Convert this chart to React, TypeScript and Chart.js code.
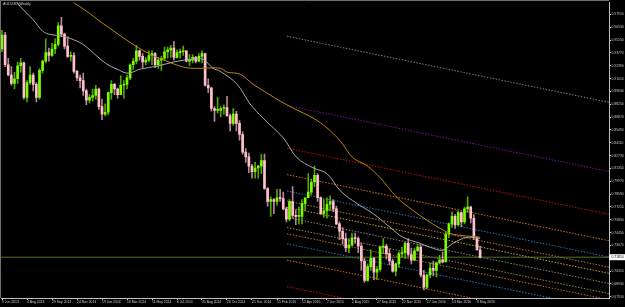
import React, { useEffect, useRef } from "react";
import { Chart, registerables } from "chart.js";
Chart.register(...registerables);

const title = "AUDUSD,Weekly";
const dateLabels = ["9 Jun 2013","4 Aug 2013","29 Sep 2013","24 Nov 2013","19 Jan 2014","16 Mar 2014","11 May 2014","6 Jul 2014","31 Aug 2014","26 Oct 2014","21 Dec 2014","15 Feb 2015","12 Apr 2015","7 Jun 2015","2 Aug 2015","27 Sep 2015","22 Nov 2015","17 Jan 2016","13 Mar 2016","8 May 2016"];
const dateLabelBars = [0,8,16,24,32,40,48,56,64,72,80,88,96,104,112,120,128,136,144,152];

const opens = [0.9420,0.9570,0.9250,0.9140,0.9050,0.9100,0.9240,0.9270,0.8900,0.9060,0.9140,0.9040,0.8900,0.9190,0.9290,0.9380,0.9350,0.9420,0.9470,0.9670,0.9580,0.9450,0.9340,0.9350,0.9180,0.9110,0.9080,0.8970,0.8870,0.8900,0.8920,0.8990,0.8800,0.8720,0.8740,0.8950,0.9040,0.8990,0.8930,0.9030,0.9040,0.9110,0.9250,0.9290,0.9400,0.9340,0.9280,0.9300,0.9350,0.9370,0.9250,0.9300,0.9320,0.9390,0.9410,0.9430,0.9330,0.9380,0.9390,0.9400,0.9290,0.9300,0.9330,0.9290,0.9340,0.9370,0.9030,0.9000,0.8780,0.8760,0.8760,0.8780,0.8790,0.8700,0.8620,0.8720,0.8620,0.8500,0.8310,0.8260,0.8160,0.8100,0.8140,0.8160,0.8220,0.7920,0.7780,0.7800,0.7780,0.7820,0.7810,0.7700,0.7590,0.7780,0.7630,0.7620,0.7620,0.7760,0.7820,0.7880,0.7990,0.8060,0.7820,0.7650,0.7680,0.7750,0.7780,0.7700,0.7540,0.7460,0.7380,0.7280,0.7310,0.7390,0.7380,0.7300,0.7140,0.6930,0.7080,0.7170,0.7020,0.7050,0.7290,0.7300,0.7220,0.7140,0.7030,0.7110,0.7220,0.7230,0.7330,0.7210,0.7150,0.7250,0.7290,0.6990,0.6860,0.6990,0.7060,0.7040,0.7120,0.7150,0.7130,0.7430,0.7540,0.7620,0.7530,0.7660,0.7560,0.7700,0.7720,0.7600,0.7390,0.7260];
const highs = [0.9620,0.9600,0.9320,0.9230,0.9170,0.9280,0.9320,0.9280,0.9080,0.9230,0.9160,0.9060,0.9210,0.9300,0.9530,0.9430,0.9480,0.9530,0.9700,0.9760,0.9590,0.9550,0.9390,0.9380,0.9190,0.9140,0.9160,0.8990,0.8930,0.8990,0.9030,0.9000,0.8880,0.8830,0.8960,0.9080,0.9050,0.9000,0.9130,0.9080,0.9140,0.9260,0.9320,0.9460,0.9410,0.9370,0.9330,0.9400,0.9400,0.9380,0.9330,0.9340,0.9440,0.9440,0.9460,0.9500,0.9410,0.9420,0.9450,0.9400,0.9360,0.9360,0.9340,0.9370,0.9400,0.9370,0.9100,0.9010,0.8800,0.8900,0.8800,0.8820,0.8910,0.8720,0.8780,0.8750,0.8650,0.8530,0.8350,0.8300,0.8180,0.8200,0.8170,0.8290,0.8290,0.7930,0.7830,0.7810,0.7910,0.7910,0.7880,0.7720,0.7800,0.7940,0.7690,0.7720,0.7800,0.7820,0.8080,0.8020,0.8160,0.8080,0.7830,0.7800,0.7820,0.7840,0.7800,0.7730,0.7560,0.7500,0.7440,0.7380,0.7440,0.7440,0.7400,0.7330,0.7170,0.7110,0.7260,0.7180,0.7080,0.7300,0.7380,0.7320,0.7270,0.7160,0.7120,0.7240,0.7290,0.7340,0.7380,0.7280,0.7280,0.7320,0.7310,0.7040,0.7000,0.7120,0.7140,0.7130,0.7200,0.7240,0.7450,0.7550,0.7670,0.7640,0.7680,0.7670,0.7720,0.7830,0.7730,0.7640,0.7400,0.7300];
const lows = [0.9390,0.9230,0.9130,0.9030,0.8990,0.9050,0.9170,0.8880,0.8850,0.9040,0.8970,0.8850,0.8880,0.9160,0.9270,0.9290,0.9340,0.9370,0.9450,0.9550,0.9420,0.9330,0.9290,0.9160,0.9080,0.9000,0.8920,0.8820,0.8840,0.8860,0.8880,0.8770,0.8660,0.8700,0.8710,0.8880,0.8930,0.8890,0.8930,0.8890,0.8990,0.9090,0.9200,0.9260,0.9300,0.9220,0.9250,0.9280,0.9250,0.9220,0.9210,0.9190,0.9300,0.9320,0.9330,0.9300,0.9320,0.9320,0.9350,0.9280,0.9240,0.9270,0.9270,0.9280,0.9270,0.9020,0.8950,0.8750,0.8640,0.8730,0.8690,0.8720,0.8700,0.8540,0.8600,0.8540,0.8440,0.8290,0.8200,0.8090,0.8030,0.8030,0.8030,0.8080,0.7910,0.7730,0.7620,0.7650,0.7740,0.7780,0.7690,0.7560,0.7570,0.7600,0.7530,0.7540,0.7540,0.7680,0.7820,0.7850,0.7940,0.7780,0.7640,0.7610,0.7600,0.7680,0.7670,0.7530,0.7370,0.7320,0.7240,0.7230,0.7300,0.7330,0.7230,0.7040,0.6910,0.6920,0.7040,0.6940,0.6940,0.7030,0.7220,0.7160,0.7100,0.7020,0.6980,0.7070,0.7180,0.7170,0.7190,0.7110,0.7140,0.7240,0.6970,0.6830,0.6840,0.6960,0.6980,0.6970,0.7110,0.7120,0.7130,0.7390,0.7500,0.7490,0.7520,0.7510,0.7540,0.7660,0.7550,0.7370,0.7260,0.7170];
const closes = [0.9570,0.9250,0.9140,0.9050,0.9100,0.9240,0.9270,0.8900,0.9060,0.9140,0.9040,0.8900,0.9190,0.9290,0.9380,0.9350,0.9420,0.9470,0.9670,0.9580,0.9450,0.9340,0.9350,0.9180,0.9110,0.9080,0.8970,0.8870,0.8900,0.8920,0.8990,0.8800,0.8720,0.8740,0.8950,0.9040,0.8990,0.8930,0.9030,0.9040,0.9110,0.9250,0.9290,0.9400,0.9340,0.9280,0.9300,0.9350,0.9370,0.9250,0.9300,0.9320,0.9390,0.9410,0.9430,0.9330,0.9380,0.9390,0.9400,0.9290,0.9300,0.9330,0.9290,0.9340,0.9370,0.9030,0.9000,0.8780,0.8760,0.8760,0.8780,0.8790,0.8700,0.8620,0.8720,0.8620,0.8500,0.8310,0.8260,0.8160,0.8100,0.8140,0.8160,0.8220,0.7920,0.7780,0.7800,0.7780,0.7820,0.7810,0.7700,0.7590,0.7780,0.7630,0.7620,0.7620,0.7760,0.7820,0.7880,0.7990,0.8060,0.7820,0.7650,0.7680,0.7750,0.7780,0.7700,0.7540,0.7460,0.7380,0.7280,0.7310,0.7390,0.7380,0.7300,0.7140,0.6930,0.7080,0.7170,0.7020,0.7050,0.7290,0.7300,0.7220,0.7140,0.7030,0.7110,0.7220,0.7230,0.7330,0.7210,0.7150,0.7250,0.7290,0.6990,0.6860,0.6990,0.7060,0.7040,0.7120,0.7150,0.7130,0.7430,0.7540,0.7620,0.7530,0.7660,0.7560,0.7700,0.7720,0.7600,0.7390,0.7260,0.7181];

const priceTicks = [0.97910,0.96530,0.95150,0.93770,0.92390,0.91010,0.89630,0.88250,0.86870,0.85490,0.84110,0.82730,0.81350,0.79970,0.78590,0.77210,0.75830,0.74450,0.73070,0.71690,0.70310,0.68930,0.67550];
const yMin = 0.67422;
const yMax = 0.99194;
const xMin = -0.32;
const xMax = 194.24;
const lastPrice = 0.7181;

const maFastBars = [4.8,5.8,9.9,13.1,15.4,19.5,21.8,25.9,30.4,33.6,36.8,40.3,44.2,49.6,56,61.1,64.3,67.5,69.8,75.2,79.4,83.5,90,94.4,99.5,104,108.2,113.6,118.7,124.2,128.3,133.8,137,141.1,144.3,148.8,153];
const maFastVals = [0.9930,0.9877,0.9738,0.9609,0.9577,0.9556,0.9534,0.9470,0.9342,0.9256,0.9203,0.9160,0.9203,0.9235,0.9288,0.9310,0.9310,0.9213,0.9181,0.9042,0.8828,0.8678,0.8464,0.8250,0.8143,0.8079,0.7897,0.7758,0.7651,0.7502,0.7395,0.7330,0.7288,0.7256,0.7330,0.7395,0.7384];
const maSlowBars = [22.4,27.2,31.4,36.8,41.9,47.4,52.8,57,60.2,64.3,69.8,72,76.2,80.3,84.8,89,93.1,99.5,104,108.2,112.3,116.8,121,126.4,131.5,136,140.2,143.4,146.6,153];
const maSlowVals = [0.9930,0.9823,0.9716,0.9588,0.9470,0.9363,0.9288,0.9235,0.9213,0.9213,0.9213,0.9171,0.9149,0.9042,0.8946,0.8860,0.8785,0.8678,0.8571,0.8432,0.8250,0.8165,0.8037,0.7823,0.7684,0.7577,0.7491,0.7437,0.7416,0.7395];

const fibStartBar = 91.2;
const fibBasePrice = 0.7609;
const fibSlopePerBar = -0.00069;
const fibUnit = 0.0460;
const fibLevels = [4.236, 2.618, 1.618, 1, 0.618, 0.382, 0.236, 0, -0.236, -0.382, -0.618, -1, -1.618, -2.618];
const fibColors = ["#6f7f90", "#7a10a8", "#c01010", "#d2691e", "#2a70b8", "#c86a28", "#c8a020", "#8a8070", "#a08050", "#c86a28", "#2a70b8", "#d2691e", "#c01010", "#7a10a8"];

const bullColor = "#7CFC00";
const bearColor = "#FFC0CB";

export default function App() {
  const ref = useRef<HTMLCanvasElement | null>(null);
  useEffect(() => {
    if (!ref.current) return;
    const font = { family: "Liberation Sans", size: 3.4 };
    const isBull = (i: number) => closes[i] >= opens[i];
    const fibSets = fibLevels.map((lv, k) => {
      const p0 = fibBasePrice + lv * fibUnit;
      const xEnd = xMax + 4;
      return {
        type: "line" as const,
        data: [
          { x: fibStartBar, y: p0 },
          { x: xEnd, y: p0 + fibSlopePerBar * (xEnd - fibStartBar) },
        ],
        borderColor: fibColors[k],
        borderWidth: 1,
        borderDash: [1.5, 1.5],
        pointRadius: 0,
        fill: false,
        order: 5,
      };
    });
    const bgPlugin = {
      id: "bg",
      beforeDraw(c: any) {
        const ctx = c.ctx;
        ctx.save();
        ctx.fillStyle = "#000";
        ctx.fillRect(0, 0, c.width, c.height);
        ctx.restore();
      },
      afterDraw(c: any) {
        const ctx = c.ctx;
        const a = c.chartArea;
        ctx.save();
        ctx.strokeStyle = "#707070";
        ctx.lineWidth = 1;
        ctx.beginPath();
        ctx.moveTo(0.5, a.bottom);
        ctx.lineTo(0.5, 0.5);
        ctx.lineTo(a.right, 0.5);
        ctx.stroke();
        ctx.fillStyle = "#d0d0d0";
        ctx.font = "3.6px 'Liberation Sans'";
        ctx.textBaseline = "top";
        ctx.fillText(title, 3, 2.5);
        const y = c.scales.y.getPixelForValue(lastPrice);
        ctx.fillStyle = "#ffffff";
        ctx.fillRect(a.right, y - 3, 20, 6);
        ctx.fillStyle = "#000";
        ctx.font = "3.4px 'Liberation Sans'";
        ctx.textBaseline = "middle";
        ctx.fillText(lastPrice.toFixed(5), a.right + 2.5, y);
        ctx.restore();
      },
    };
    const chart = new Chart(ref.current, {
      type: "bar",
      data: {
        datasets: [
          {
            type: "line",
            data: maFastBars.map((b, i) => ({ x: b, y: maFastVals[i] })),
            borderColor: "#a8a8a8",
            borderWidth: 1,
            pointRadius: 0,
            tension: 0.35,
            fill: false,
            order: 0,
          } as any,
          {
            type: "line",
            data: maSlowBars.map((b, i) => ({ x: b, y: maSlowVals[i] })),
            borderColor: "#b8860b",
            borderWidth: 1,
            pointRadius: 0,
            tension: 0.35,
            fill: false,
            order: 0,
          } as any,
          {
            type: "bar",
            data: opens.map((o, i) => ({ x: i, y: [opens[i], closes[i]] })),
            backgroundColor: opens.map((_, i) => (isBull(i) ? bullColor : bearColor)),
            barThickness: 2,
            minBarLength: 1,
            grouped: false,
            order: 1,
          } as any,
          {
            type: "bar",
            data: opens.map((o, i) => ({ x: i, y: [lows[i], highs[i]] })),
            backgroundColor: opens.map((_, i) => (isBull(i) ? "rgba(110,220,0,0.75)" : "rgba(240,180,195,0.75)")),
            barThickness: 1,
            grouped: false,
            order: 2,
          } as any,
          {
            type: "line",
            data: [
              { x: xMin - 2, y: lastPrice },
              { x: xMax + 2, y: lastPrice },
            ],
            borderColor: "#55702a",
            borderWidth: 1,
            pointRadius: 0,
            fill: false,
            order: 4,
          } as any,
          ...(fibSets as any[]),
        ],
      },
      options: {
        responsive: false,
        devicePixelRatio: 1,
        animation: false,
        events: [],
        layout: { padding: { left: 1, top: 1, right: 0, bottom: 0 } },
        plugins: { legend: { display: false }, tooltip: { enabled: false } },
        scales: {
          x: {
            type: "linear",
            offset: false,
            min: xMin,
            max: xMax,
            afterBuildTicks: (s: any) => {
              s.ticks = dateLabelBars.map((v) => ({ value: v }));
            },
            afterFit: (s: any) => {
              s.height = 9;
            },
            grid: { offset: false, drawOnChartArea: false, drawTicks: true, tickLength: 2, color: "#c0c0c0" },
            border: { display: true, color: "#c0c0c0", width: 1 },
            ticks: {
              autoSkip: false,
              maxRotation: 0,
              align: "start",
              padding: 0.5,
              color: "#c8c8c8",
              font,
              callback: (_v: any, i: number) => dateLabels[i],
            },
          },
          y: {
            type: "linear",
            position: "right",
            min: yMin,
            max: yMax,
            afterBuildTicks: (s: any) => {
              s.ticks = priceTicks.map((v) => ({ value: v }));
            },
            afterFit: (s: any) => {
              s.width = 16;
            },
            grid: { drawOnChartArea: false, drawTicks: true, tickLength: 2, color: "#c0c0c0" },
            border: { display: true, color: "#c0c0c0", width: 1 },
            ticks: {
              autoSkip: false,
              padding: 0.5,
              color: "#c8c8c8",
              font,
              callback: (v: any) => Number(v).toFixed(5),
            },
          },
        },
      } as any,
      plugins: [bgPlugin],
    });
    return () => chart.destroy();
  }, []);
  return (
    <div style={{ position: "fixed", left: 0, top: 0, width: 625, height: 307, background: "#000" }}>
      <canvas ref={ref} width={625} height={307} />
    </div>
  );
}
